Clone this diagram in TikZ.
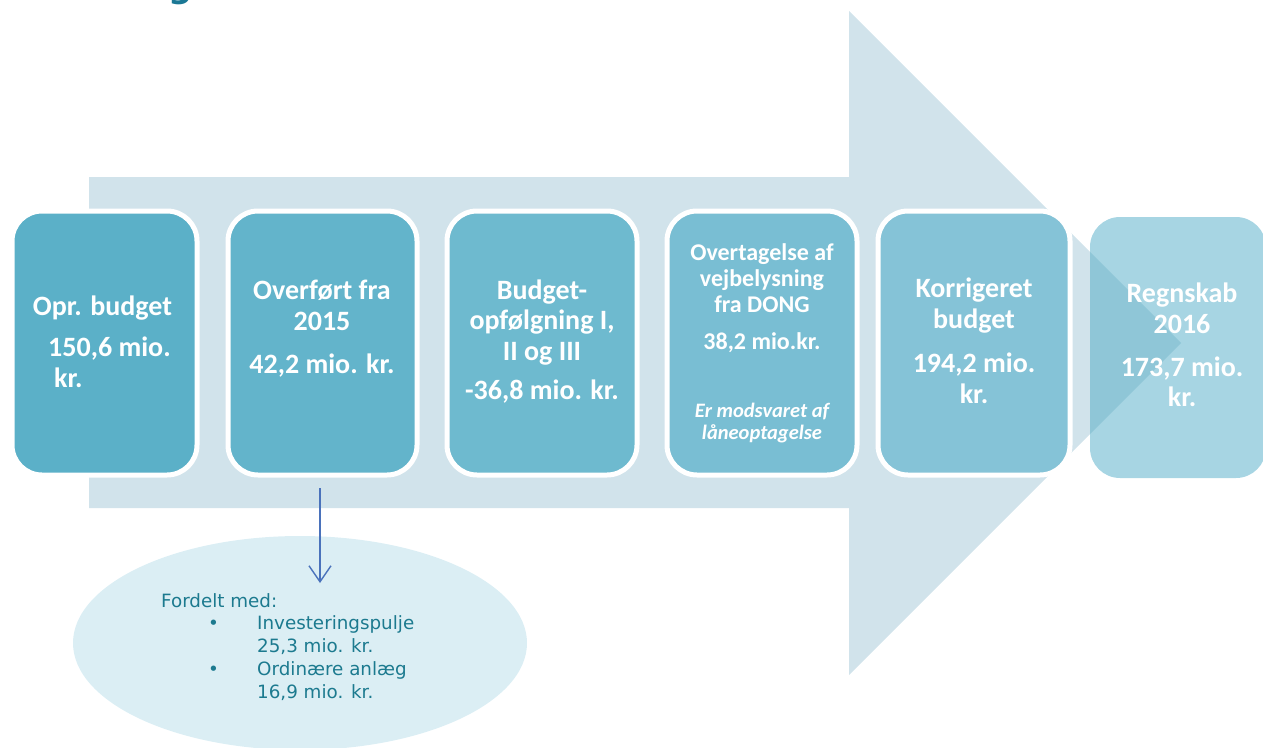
\documentclass[tikz,border=0pt]{standalone}
\usepackage{fontspec}
\setmainfont{Carlito}
\newfontfamily\verd{DejaVu Sans}
\usetikzlibrary{arrows.meta,shapes.geometric}
\definecolor{arrowbg}{HTML}{D1E3EB}
\definecolor{cA}{HTML}{5BB0C8}
\definecolor{cB}{HTML}{63B4CB}
\definecolor{cC}{HTML}{6EBACF}
\definecolor{cD}{HTML}{79BED3}
\definecolor{cE}{HTML}{85C3D7}
\definecolor{cF}{HTML}{A7D5E3}
\definecolor{cFdark}{HTML}{8FC6D7}
\definecolor{ellfill}{HTML}{DBEEF4}
\definecolor{tealtext}{HTML}{1C7A8F}
\definecolor{connblue}{HTML}{4A72BB}
\definecolor{titlecol}{HTML}{1B7895}
\tikzset{
  x=1pt, y=-1pt,
  stagebox/.style={rectangle, rounded corners=30pt, draw=white, line width=5pt,
    minimum height=264pt, inner sep=0pt},
  big/.style={text=white, font=\bfseries\fontsize{28}{30.5}\selectfont, align=center, anchor=base, inner sep=0pt},
  mid/.style={text=white, font=\bfseries\fontsize{24}{26}\selectfont, align=center, anchor=base, inner sep=0pt},
  note/.style={text=white, font=\bfseries\itshape\fontsize{20.5}{22}\selectfont, align=center, anchor=base, inner sep=0pt},
  elltext/.style={text=tealtext, font=\verd\fontsize{18.3}{23}\selectfont, anchor=base west, inner sep=0pt},
  conn/.style={draw=connblue, line width=1.4pt, -{Straight Barb[length=16pt,width=22pt,line width=1.4pt]}}
}
\begin{document}
\begin{tikzpicture}
\useasboundingbox (0,0) rectangle (1263,747);
% title fragment
\node[anchor=base west, inner sep=0pt, text=titlecol, font=\verd\bfseries\fontsize{34}{40}\selectfont] (title) at (168,-3) {g};
% big arrow
\fill[arrowbg] (89,177) -- (849,177) -- (849,11) -- (1181,343) -- (849,675) -- (849,508) -- (89,508) -- cycle;
% stage boxes
\node[stagebox, fill=cA, minimum width=185pt] (b1) at (104.5,343) {};
\node[stagebox, fill=cB, minimum width=189pt] (b2) at (322.5,343) {};
\node[stagebox, fill=cC, minimum width=190pt] (b3) at (542,343) {};
\node[stagebox, fill=cD, minimum width=190pt] (b4) at (762,343) {};
\node[stagebox, fill=cE, minimum width=192pt] (b5) at (974,343) {};
\node[rectangle, rounded corners=30pt, fill=cF, minimum width=176pt, minimum height=261pt, inner sep=0pt] (b6) at (1178,347.5) {};
\begin{scope}
  \clip[rounded corners=30pt] (1090,217) rectangle (1266,478);
  \fill[cFdark] (849,11) -- (1181,343) -- (849,675) -- cycle;
\end{scope}
% texts (base anchor = baseline of last line)
\node[big] (t1a) at (102.5,315) {Opr. budget};
\node[big, anchor=base west] (t1b) at (48,356.7) {150,6 mio.};
\node[big, anchor=base west] (t1c) at (54,387.7) {kr.};
\node[big] (t2a) at (322,330) {Overført fra\\2015};
\node[big] (t2b) at (322,373) {42,2 mio. kr.};
\node[big] (t3a) at (542,360) {Budget-\\opfølgning I,\\II og III};
\node[big] (t3b) at (542,399) {-36,8 mio. kr.};
\node[mid] (t4a) at (762,312) {Overtagelse af\\vejbelysning\\fra DONG};
\node[mid] (t4b) at (762,349) {38,2 mio.kr.};
\node[note] (t4c) at (762,439) {Er modsvaret af\\låneoptagelse};
\node[big] (t5a) at (974,328) {Korrigeret\\budget};
\node[big] (t5b) at (974,403) {194,2 mio.\\kr.};
\node[big] (t6a) at (1182,333) {Regnskab\\2016};
\node[big] (t6b) at (1182,406.7) {173,7 mio.\\kr.};
% ellipse
\node[ellipse, fill=ellfill, minimum width=454pt, minimum height=214pt, inner sep=0pt] (ell) at (300,643) {};
\node[elltext] (e1) at (161,607) {Fordelt med:};
\node[elltext] (e2) at (208,629) {•};
\node[elltext] (e3) at (257,629) {Investeringspulje};
\node[elltext] (e4) at (257,652) {25,3 mio. kr.};
\node[elltext] (e5) at (208,675) {•};
\node[elltext] (e6) at (257,675) {Ordinære anlæg};
\node[elltext] (e7) at (257,698) {16,9 mio. kr.};
% connector
\coordinate (cs) at (320,488);
\coordinate (ce) at (320,583);
\draw[conn] (cs) -- (ce);
\end{tikzpicture}
\end{document}
